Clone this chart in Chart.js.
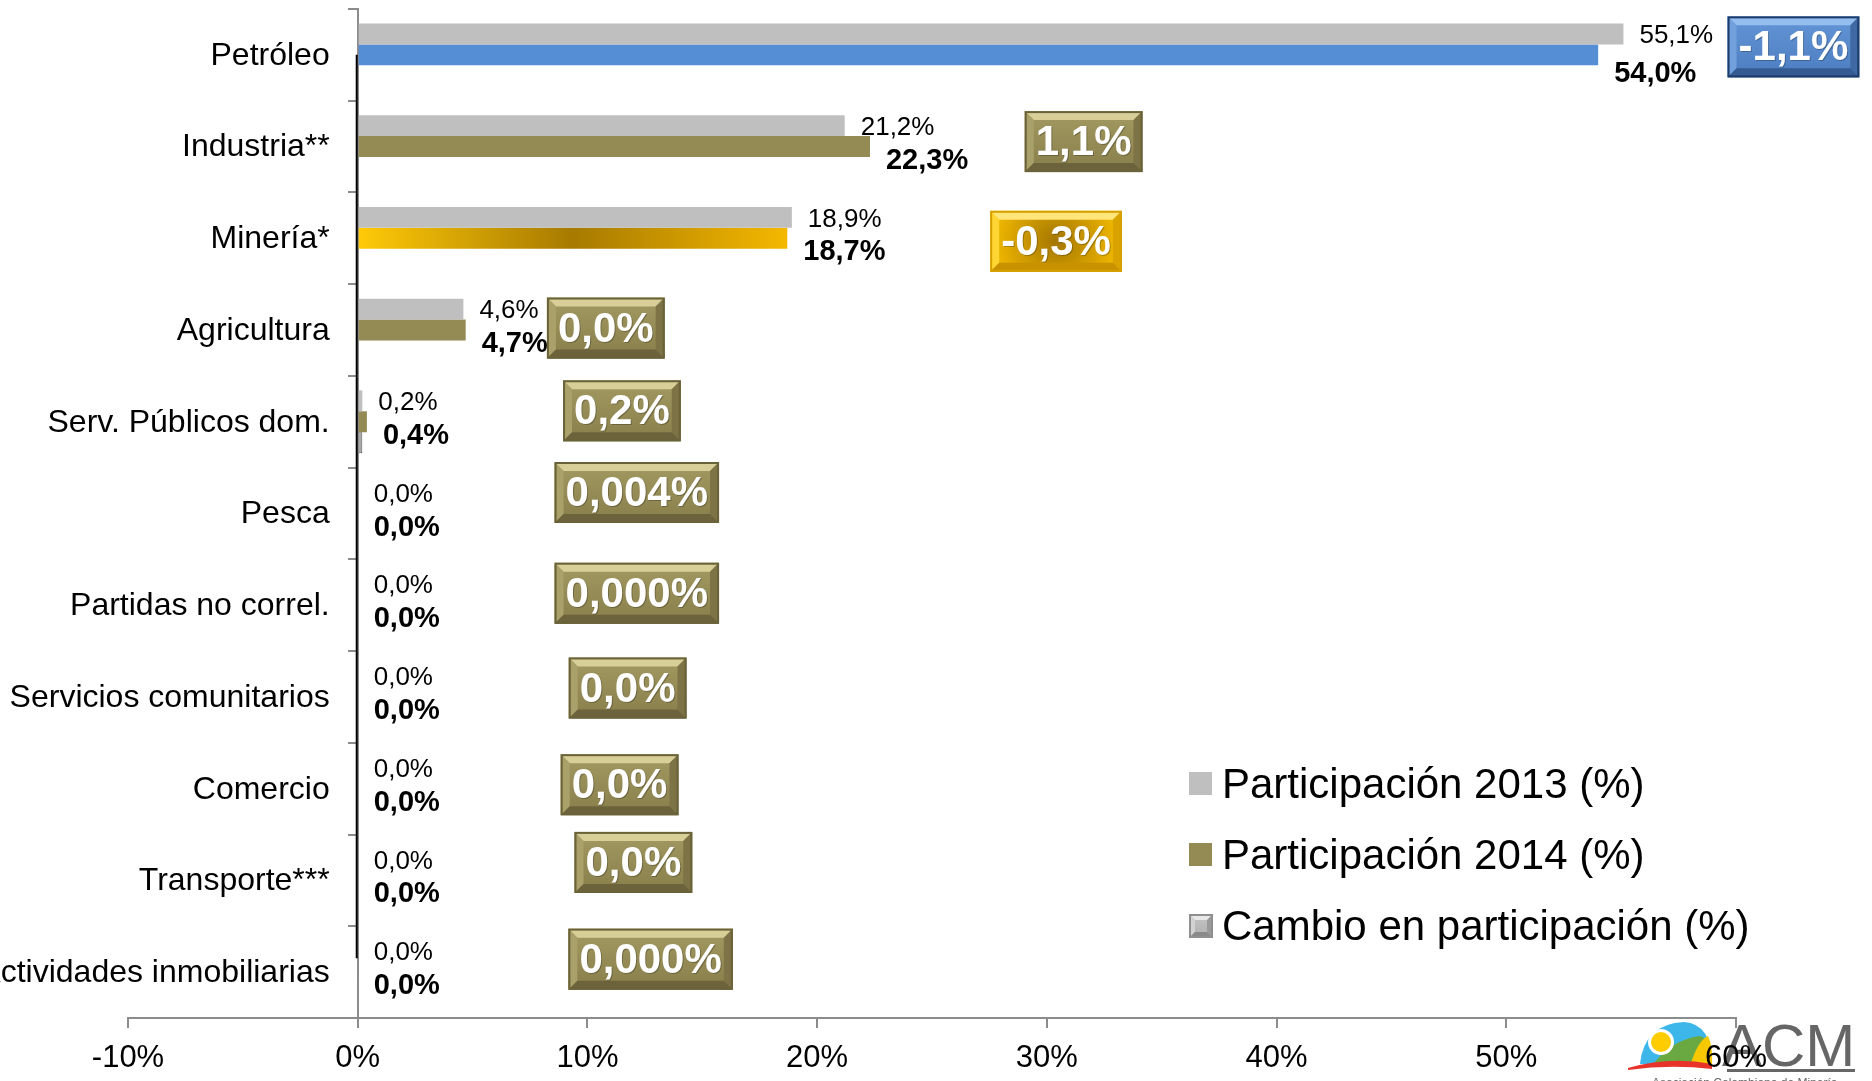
<!DOCTYPE html>
<html lang="es">
<head>
<meta charset="utf-8">
<title>Participación por sector</title>
<script src="https://cdn.jsdelivr.net/npm/chart.js@4.4.1/dist/chart.umd.min.js"></script>
<style>
  html, body { margin: 0; padding: 0; background: #fff; overflow: hidden; }
  #wrap { position: relative; width: 1872px; height: 1081px; }
</style>
</head>
<body>
<div id="wrap"><canvas id="grafico" width="1872" height="1081"></canvas></div>
<script>
const sectores = ['Petróleo', 'Industria**', 'Minería*', 'Agricultura', 'Serv. Públicos dom.', 'Pesca',
  'Partidas no correl.', 'Servicios comunitarios', 'Comercio', 'Transporte***', 'Actividades inmobiliarias'];
const part2013 = [55.1, 21.2, 18.9, 4.6, 0.2, 0.0, 0.0, 0.0, 0.0, 0.0, 0.0];
const part2014 = [54.0, 22.3, 18.7, 4.7, 0.4, 0.0, 0.0, 0.0, 0.0, 0.0, 0.0];
// barras de cambio casi invisibles en el original
const cambioBarra = [0, 0, 0, 0, 0.2, 0, 0, 0, -0.05, 0, -0.05];
// valores de las cajas
const cambio = [-1.1, 1.1, -0.3, 0.0, 0.2, 0.004, 0.000, 0.0, 0.0, 0.0, 0.000];
const cambioDecimales = [1, 1, 1, 1, 1, 3, 3, 1, 1, 1, 3];
const ejeXMin = -10, ejeXMax = 60, ejeXPaso = 10;

// ubicacion de las cajas (centro en unidades del eje x, desplazamiento vertical en px)
const cajaX = [62.5, 31.6, 30.4, 10.8, 11.5, 12.15, 12.15, 11.75, 11.4, 12.0, 12.75];
const cajaDy = [-8, -5, 3, -2, -11, -21, -12, -9, -4, -18, -13];

const FUENTE = '"Liberation Sans", Arial, sans-serif';
const GRIS = '#bfbfbf', OLIVA = '#948a54', AZUL = '#558ed5';

const temas = {
  oliva: { arriba: '#a39962', abajo: '#887e4a', sup: '#d8cf98', izq: '#aaa06a', der: '#7d7346', inf: '#6c633d', borde: '#6a6239' },
  azul: { arriba: '#6396d6', abajo: '#4c7cc0', sup: '#94bef0', izq: '#71a0dc', der: '#3f69a3', inf: '#355c92', borde: '#1d3b69' },
  oro: { arriba: '#f5bc00', abajo: '#f5bc00', sup: '#ffe57a', izq: '#ffd633', der: '#d9a300', inf: '#c79100', borde: '#d6a100', radial: '#a67800' },
  gris: { arriba: '#c4c4c4', abajo: '#b0b0b0', sup: '#e8e8e8', izq: '#d2d2d2', der: '#9a9a9a', inf: '#8a8a8a', borde: '#8f8f8f' }
};
const temaSector = i => i === 0 ? temas.azul : i === 2 ? temas.oro : temas.oliva;

const fmt = (v, d) => v.toFixed(d).replace('.', ',') + '%';

function poligono(ctx, pts, color) {
  ctx.beginPath();
  ctx.moveTo(pts[0][0], pts[0][1]);
  for (let k = 1; k < pts.length; k++) ctx.lineTo(pts[k][0], pts[k][1]);
  ctx.closePath();
  ctx.fillStyle = color;
  ctx.fill();
}

function cajaBiselada(ctx, x, y, w, h, t, b) {
  ctx.save();
  if (t.radial) {
    const r = ctx.createRadialGradient(x + w / 2, y + h / 2, 2, x + w / 2, y + h / 2, w / 2);
    r.addColorStop(0, t.radial);
    r.addColorStop(1, t.arriba);
    ctx.fillStyle = r;
  } else {
    const g = ctx.createLinearGradient(0, y, 0, y + h);
    g.addColorStop(0, t.arriba);
    g.addColorStop(1, t.abajo);
    ctx.fillStyle = g;
  }
  ctx.fillRect(x, y, w, h);
  poligono(ctx, [[x, y], [x + w, y], [x + w - b, y + b], [x + b, y + b]], t.sup);
  poligono(ctx, [[x, y], [x + b, y + b], [x + b, y + h - b], [x, y + h]], t.izq);
  poligono(ctx, [[x + w, y], [x + w, y + h], [x + w - b, y + h - b], [x + w - b, y + b]], t.der);
  poligono(ctx, [[x, y + h], [x + b, y + h - b], [x + w - b, y + h - b], [x + w, y + h]], t.inf);
  ctx.strokeStyle = t.borde;
  ctx.lineWidth = 2;
  ctx.strokeRect(x + 1, y + 1, w - 2, h - 2);
  ctx.restore();
}

function dibujarLogo(ctx) {
  ctx.save();
  // sombrero
  ctx.beginPath();
  ctx.moveTo(1640, 1064);
  ctx.quadraticCurveTo(1644, 1024, 1684, 1022);
  ctx.quadraticCurveTo(1712, 1024, 1712, 1064);
  ctx.closePath();
  ctx.fillStyle = '#3db7e9';
  ctx.fill();
  ctx.beginPath();
  ctx.moveTo(1652, 1066);
  ctx.quadraticCurveTo(1670, 1040, 1700, 1036);
  ctx.quadraticCurveTo(1712, 1040, 1712, 1066);
  ctx.closePath();
  ctx.fillStyle = '#6aa842';
  ctx.fill();
  ctx.beginPath();
  ctx.moveTo(1690, 1066);
  ctx.quadraticCurveTo(1698, 1040, 1708, 1036);
  ctx.quadraticCurveTo(1713, 1046, 1712, 1066);
  ctx.closePath();
  ctx.fillStyle = '#f6c800';
  ctx.fill();
  ctx.beginPath();
  ctx.arc(1661, 1042, 13, 0, Math.PI * 2);
  ctx.fillStyle = '#ffffff';
  ctx.fill();
  ctx.beginPath();
  ctx.arc(1661, 1042, 10, 0, Math.PI * 2);
  ctx.fillStyle = '#ffcc00';
  ctx.fill();
  ctx.beginPath();
  ctx.moveTo(1628, 1068);
  ctx.quadraticCurveTo(1670, 1056, 1712, 1064);
  ctx.lineTo(1712, 1069);
  ctx.quadraticCurveTo(1670, 1064, 1628, 1070);
  ctx.closePath();
  ctx.fillStyle = '#e8332a';
  ctx.fill();
  // texto
  ctx.fillStyle = '#666';
  ctx.font = '60px ' + FUENTE;
  ctx.textBaseline = 'alphabetic';
  ctx.textAlign = 'left';
  ctx.fillText('ACM', 1722, 1066);
  ctx.fillRect(1727, 1069, 128, 3);
  ctx.font = '12px ' + FUENTE;
  ctx.fillText('Asociación Colombiana de Minería', 1652, 1087);
  ctx.restore();
}

const pluginLogo = {
  id: 'logo',
  beforeDraw(chart) { dibujarLogo(chart.ctx); }
};

const pluginAnotaciones = {
  id: 'anotaciones',
  afterDatasetsDraw(chart) {
    const ctx = chart.ctx;
    const x = chart.scales.x, y = chart.scales.y;
    const x0 = x.getPixelForValue(0);
    ctx.save();
    // linea oscura junto al eje
    ctx.strokeStyle = '#000';
    ctx.lineWidth = 2;
    ctx.beginPath();
    ctx.moveTo(x0 - 1, y.getPixelForValue(0));
    ctx.lineTo(x0 - 1, y.getPixelForValue(sectores.length - 1) - 14);
    ctx.stroke();

    // nombres de sectores, alineados a la derecha del eje en 0%
    ctx.fillStyle = '#000';
    ctx.font = '32px ' + FUENTE;
    ctx.textAlign = 'right';
    ctx.textBaseline = 'middle';
    sectores.forEach((s, i) => ctx.fillText(s, x0 - 28, y.getPixelForValue(i) + 1));

    // etiquetas de datos
    const m13 = chart.getDatasetMeta(0).data, m14 = chart.getDatasetMeta(1).data;
    ctx.textAlign = 'left';
    part2013.forEach((v, i) => {
      ctx.font = '26px ' + FUENTE;
      ctx.fillText(fmt(v, 1), x.getPixelForValue(v) + 16, m13[i].y + 2);
    });
    part2014.forEach((v, i) => {
      ctx.font = 'bold 29px ' + FUENTE;
      ctx.fillText(fmt(v, 1), x.getPixelForValue(v) + 16, m14[i].y + (i === 0 ? 19 : 14));
    });

    // cajas con el cambio
    ctx.font = 'bold 42px ' + FUENTE;
    cambio.forEach((v, i) => {
      const txt = fmt(v, cambioDecimales[i]);
      const w = ctx.measureText(txt).width + 22;
      const h = 61;
      const cx = x.getPixelForValue(cajaX[i]);
      const cy = y.getPixelForValue(i) + cajaDy[i];
      cajaBiselada(ctx, cx - w / 2, cy - h / 2, w, h, temaSector(i), 9);
      ctx.textAlign = 'center';
      ctx.textBaseline = 'middle';
      ctx.fillStyle = 'rgba(0,0,0,0.25)';
      ctx.fillText(txt, cx + 1, cy + 3);
      ctx.fillStyle = '#fff';
      ctx.fillText(txt, cx, cy + 2);
    });

    // leyenda
    const items = [
      { texto: 'Participación 2013 (%)', color: GRIS },
      { texto: 'Participación 2014 (%)', color: OLIVA },
      { texto: 'Cambio en participación (%)', tema: temas.gris }
    ];
    ctx.font = '42px ' + FUENTE;
    ctx.textAlign = 'left';
    ctx.textBaseline = 'middle';
    items.forEach((it, k) => {
      const yy = 784 + k * 71;
      if (it.tema) {
        cajaBiselada(ctx, 1189, yy - 12, 24, 24, it.tema, 6);
      } else {
        ctx.fillStyle = it.color;
        ctx.fillRect(1189, yy - 12, 23, 23);
      }
      ctx.fillStyle = '#000';
      ctx.fillText(it.texto, 1222, yy + 2);
    });
    ctx.restore();
  }
};

function colorMineria(c) {
  const chart = c.chart;
  if (!chart.chartArea || !chart.scales.x) return '#e6ac00';
  const xs = chart.scales.x;
  const a = xs.getPixelForValue(0), b = xs.getPixelForValue(part2014[2]);
  const g = chart.ctx.createLinearGradient(a, 0, b, 0);
  g.addColorStop(0, '#ffca08');
  g.addColorStop(0.5, '#a77a00');
  g.addColorStop(1, '#f4b800');
  return g;
}

new Chart(document.getElementById('grafico'), {
  type: 'bar',
  data: {
    labels: sectores,
    datasets: [
      { label: 'Participación 2013 (%)', data: part2013, backgroundColor: GRIS },
      {
        label: 'Participación 2014 (%)', data: part2014,
        backgroundColor: c => c.dataIndex === 0 ? AZUL : c.dataIndex === 2 ? colorMineria(c) : OLIVA
      },
      { label: 'Cambio en participación (%)', data: cambioBarra, backgroundColor: '#a8a8a8', borderColor: '#555', borderWidth: 1 }
    ]
  },
  options: {
    indexAxis: 'y',
    responsive: false,
    animation: false,
    devicePixelRatio: 1,
    categoryPercentage: 0.685,
    barPercentage: 1,
    layout: { padding: { left: 128, right: 136, top: 9, bottom: 0 } },
    plugins: { legend: { display: false }, tooltip: { enabled: false } },
    scales: {
      x: {
        min: ejeXMin, max: ejeXMax,
        afterFit: s => { s.height = 63; },
        grid: { drawOnChartArea: false, drawTicks: true, tickLength: 10, color: '#8c8c8c', lineWidth: 2 },
        border: { color: '#8c8c8c', width: 2 },
        ticks: {
          stepSize: ejeXPaso, padding: 12, color: '#000',
          font: { family: FUENTE, size: 31 },
          callback: v => v + '%'
        }
      },
      y: {
        position: { x: 0 },
        grid: { drawOnChartArea: false, drawTicks: true, tickLength: 9, color: '#8c8c8c', lineWidth: 2, offset: true },
        border: { color: '#8c8c8c', width: 2 },
        ticks: { display: false }
      }
    }
  },
  plugins: [pluginLogo, pluginAnotaciones]
});
</script>
</body>
</html>
